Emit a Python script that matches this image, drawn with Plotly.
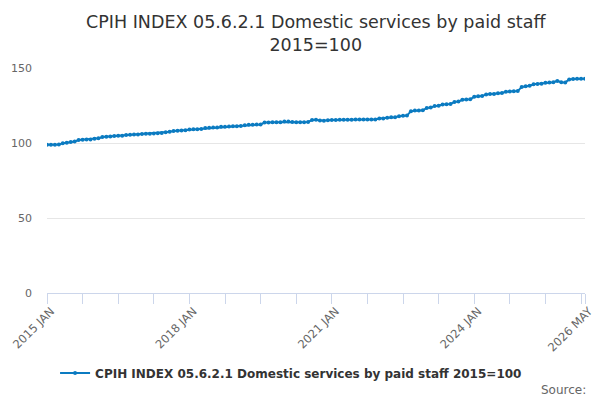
import plotly.graph_objects as go

months = ["JAN", "FEB", "MAR", "APR", "MAY", "JUN", "JUL", "AUG", "SEP", "OCT", "NOV", "DEC"]
categories = [f"{y} {m}" for y in range(2015, 2027) for m in months][:137]

values = [
    98.8, 98.8, 98.9, 99.0, 99.8, 100.1, 100.7, 101.0, 102.0, 102.2, 102.3, 102.4,
    102.9, 103.1, 104.0, 104.2, 104.3, 104.6, 104.8, 104.9, 105.3, 105.5, 105.6, 105.7,
    106.0, 106.1, 106.2, 106.4, 106.5, 106.7, 107.2, 107.5, 108.0, 108.2, 108.4, 108.5,
    109.0, 109.1, 109.2, 109.3, 110.0, 110.2, 110.3, 110.4, 110.8, 110.9, 111.0, 111.1,
    111.2, 111.4, 111.9, 112.1, 112.2, 112.3, 112.4, 113.6, 113.7, 113.8, 113.8, 113.9,
    114.3, 114.4, 114.0, 113.8, 113.8, 113.9, 114.0, 115.3, 115.5, 115.0, 114.9, 115.1,
    115.3, 115.4, 115.5, 115.5, 115.5, 115.5, 115.6, 115.6, 115.6, 115.6, 115.6, 115.7,
    116.3, 116.4, 116.8, 117.1, 117.2, 117.9, 118.1, 118.3, 121.2, 121.6, 121.7, 121.8,
    123.4, 123.6, 124.6, 124.8, 125.7, 125.9, 126.0, 127.4, 127.6, 128.8, 129.0, 129.1,
    130.9, 131.1, 131.3, 132.4, 132.6, 132.7, 133.2, 133.3, 134.2, 134.4, 134.5, 134.6,
    137.4, 137.8, 138.1, 139.1, 139.3, 139.5, 140.2, 140.4, 140.5, 141.4, 140.5, 140.4,
    142.4, 142.7, 142.8, 142.9, 142.9,
]

# ticks every 9 months, plus the last month; only some get a label
tick_idx = list(range(0, 136, 9)) + [136]
labelled = ["2015 JAN", "2018 JAN", "2021 JAN", "2024 JAN", "2026 MAY"]
tick_vals = [categories[i] for i in tick_idx]
tick_text = [c if c in labelled else "" for c in tick_vals]

series_name = "CPIH INDEX 05.6.2.1 Domestic services by paid staff 2015=100"
title_text = "CPIH INDEX 05.6.2.1 Domestic services by paid staff<br>2015=100"

fig = go.Figure()
fig.add_trace(go.Scatter(
    x=categories, y=values, mode="lines+markers", name="<b>" + series_name + "</b>",
    line=dict(color="#0b7bc1", width=2),
    marker=dict(color="#0b7bc1", size=4),
))

# page body has an 8px margin, so the figure is drawn 8px smaller and shifted
fig.update_layout(
    width=592, height=392,
    margin=dict(l=39, r=15, t=60, b=107, autoexpand=False),
    paper_bgcolor="white", plot_bgcolor="white",
    font=dict(family="DejaVu Sans", color="#666666"),
    showlegend=True,
    legend=dict(
        orientation="h", x=0.015, xanchor="left", y=0.069, yanchor="middle",
        yref="container",
        font=dict(size=12, color="#333333", family="DejaVu Sans"),
    ),
    annotations=[
        dict(
            text=title_text, xref="paper", yref="paper", x=0.5, y=1.258,
            xanchor="center", yanchor="top", showarrow=False,
            font=dict(size=17.5, color="#333333"),
        ),
        dict(
            text="Source:", xref="paper", yref="paper", x=1.0056, y=-0.431,
            xanchor="right", yanchor="middle", showarrow=False,
            font=dict(size=12, color="#666666"),
        ),
    ],
)

fig.update_xaxes(
    type="category", range=[0, 136], automargin=False,
    tickmode="array", tickvals=tick_vals, ticktext=tick_text,
    tickangle=-45, ticks="outside", ticklen=10, tickcolor="#ccd6eb",
    showline=True, linecolor="#ccd6eb", showgrid=False,
    tickfont=dict(size=11.5, color="#666666"),
    ticklabelshift=4, ticklabelstandoff=-4,
)
fig.update_yaxes(
    range=[0, 150], tickvals=[0, 50, 100, 150], automargin=False,
    showgrid=True, gridcolor="#e6e6e6", zeroline=False,
    tickfont=dict(size=11, color="#666666"), ticklabelstandoff=14,
)

fig.write_html("out.html")
